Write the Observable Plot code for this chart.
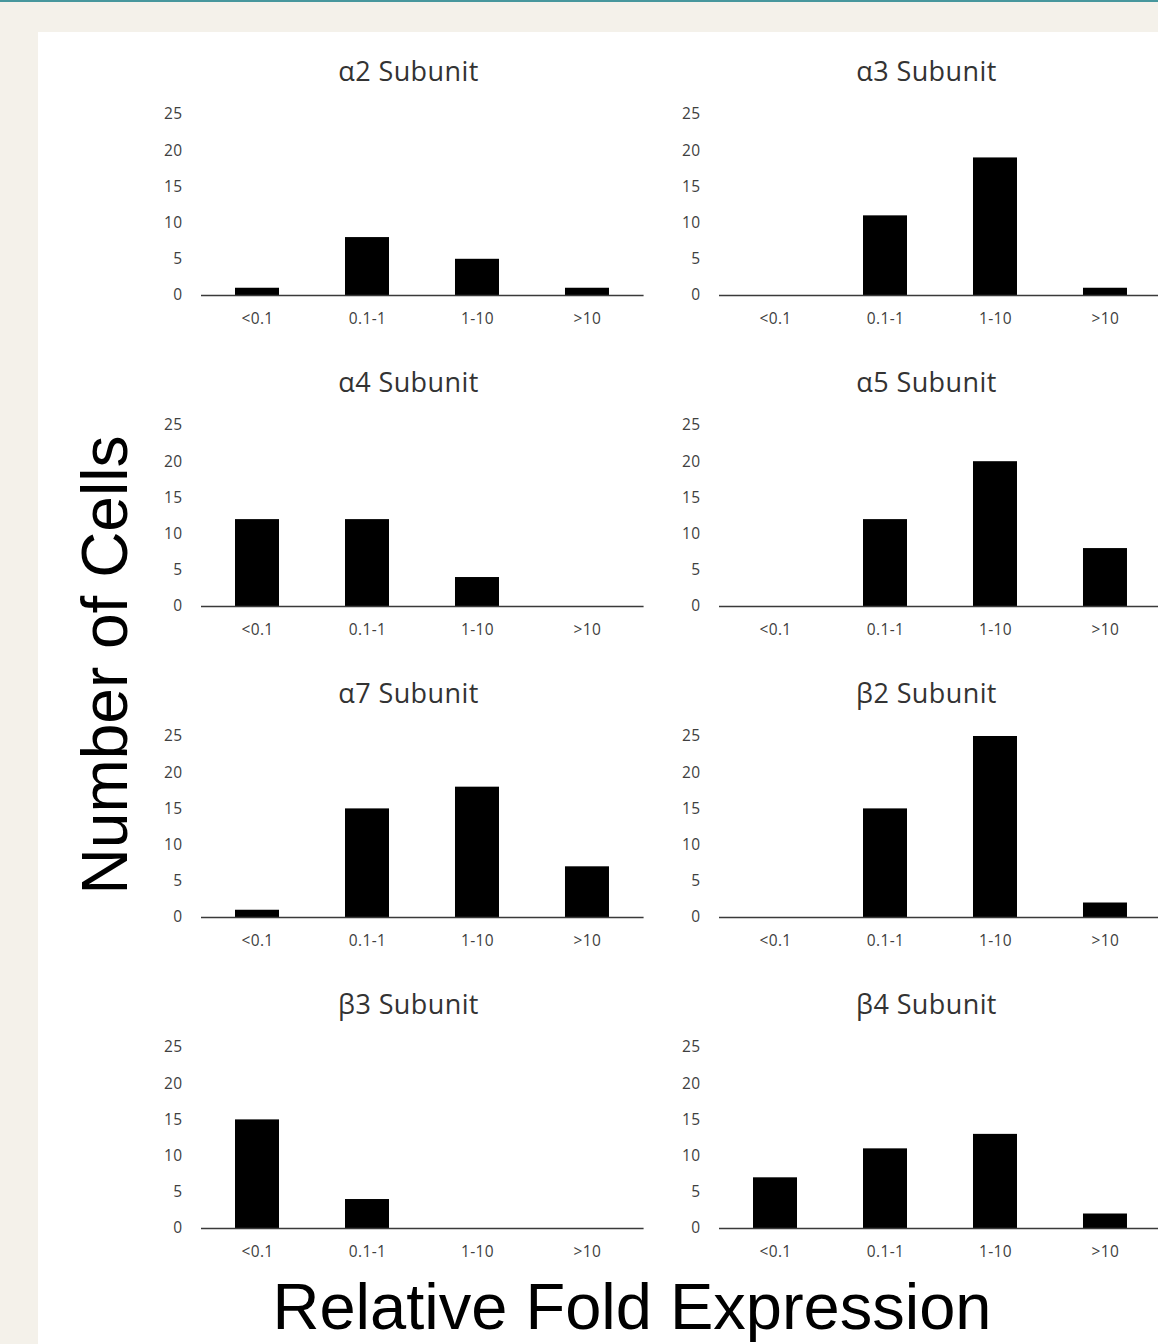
<!DOCTYPE html>
<html>
<head>
<meta charset="utf-8">
<script src="https://cdn.jsdelivr.net/npm/d3@7"></script>
<script src="https://cdn.jsdelivr.net/npm/@observablehq/plot@0.6"></script>
<style>
  html, body { margin: 0; padding: 0; background: #f4f1ea; }
  #page { position: relative; width: 1158px; height: 1344px; overflow: hidden; background: #f4f1ea; }
  #topbar { position: absolute; left: 0; top: 0; width: 1158px; height: 2px; background: #47979d; }
  #panel { position: absolute; left: 38px; top: 32px; right: 0; bottom: 0; background: #ffffff; }
  .chart { position: absolute; }
  .chart text { letter-spacing: 0.4px; }
  #labels { position: absolute; left: 0; top: 0; }
</style>
</head>
<body>
<div id="page">
  <div id="topbar"></div>
  <div id="panel"></div>
  <div id="charts"></div>
  <svg id="labels" width="1158" height="1344">
    <text transform="translate(127,665) rotate(-90)" text-anchor="middle" font-family="'Liberation Sans', Arial, sans-serif" font-size="64" fill="#000">Number of Cells</text>
    <text x="632" y="1329" text-anchor="middle" font-family="'Liberation Sans', Arial, sans-serif" font-size="65" fill="#000">Relative Fold Expression</text>
  </svg>
</div>
<script>
// ---- data ----
const categories = ["<0.1", "0.1-1", "1-10", ">10"];
const yTicks = [0, 5, 10, 15, 20, 25];
const titles = ["α2 Subunit", "α3 Subunit", "α4 Subunit", "α5 Subunit", "α7 Subunit", "β2 Subunit", "β3 Subunit", "β4 Subunit"];
const alpha2 = [1, 8, 5, 1];
const alpha3 = [0, 11, 19, 1];
const alpha4 = [12, 12, 4, 0];
const alpha5 = [0, 12, 20, 8];
const alpha7 = [1, 15, 18, 7];
const beta2 = [0, 15, 25, 2];
const beta3 = [15, 4, 0, 0];
const beta4 = [7, 11, 13, 2];
const series = [alpha2, alpha3, alpha4, alpha5, alpha7, beta2, beta3, beta4];

// ---- layout ----
const frameW = 442.6, frameH = 181;
const mL = 100, mR = 20, mT = 70, mB = 40;
const colFrameLeft = [200.7, 719];
const rowBaseline = [294.5, 605.5, 917, 1227.5];

const host = document.getElementById("charts");
series.forEach((vals, i) => {
  const col = i % 2, row = Math.floor(i / 2);
  const data = categories.map((c, j) => ({category: c, count: vals[j]}));
  const chart = Plot.plot({
    width: mL + frameW + mR,
    height: mT + frameH + mB,
    marginLeft: mL, marginRight: mR, marginTop: mT, marginBottom: mB,
    style: {background: "none", overflow: "visible", fontFamily: "'Open Sans', sans-serif", fontSize: "15.5px", color: "#404040"},
    x: {type: "band", domain: categories, paddingInner: 0.6, paddingOuter: 0.3, tickSize: 0, tickPadding: 17, label: null},
    y: {domain: [0, 25], ticks: yTicks, tickSize: 0, tickPadding: 19, label: null},
    marks: [
      Plot.barY(data.filter(d => d.count > 0), {x: "category", y: "count", fill: "#000"}),
      Plot.ruleY([0], {stroke: "#3a3a3a", strokeWidth: 1.5}),
      Plot.text([titles[i]], {frameAnchor: "top-left", dx: 207, dy: -42, textAnchor: "middle", lineAnchor: "middle", fontSize: 27, fill: "#333", fontFamily: "'Open Sans', sans-serif"})
    ]
  });
  chart.classList.add("chart");
  chart.style.left = (colFrameLeft[col] - mL) + "px";
  chart.style.top = (rowBaseline[row] - frameH - mT) + "px";
  chart.style.maxWidth = "none";
  host.appendChild(chart);
});
</script>
</body>
</html>
